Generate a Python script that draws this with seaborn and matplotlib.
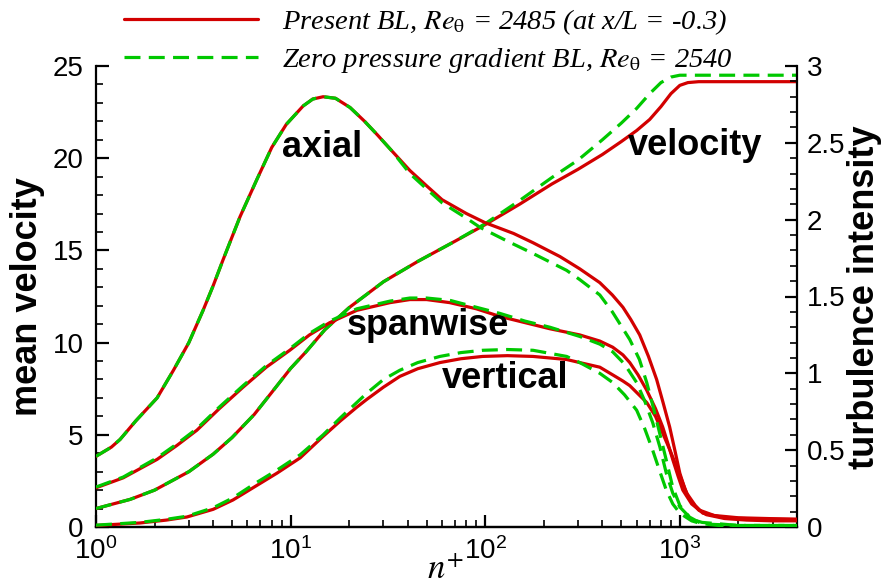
import matplotlib
matplotlib.use("Agg")
import matplotlib.pyplot as plt
from matplotlib.lines import Line2D
from matplotlib.ticker import MultipleLocator, LogLocator
import seaborn as sns

# ---- profile data (n+ = wall-normal distance in wall units) ----
RED = "#d20000"
GREEN = "#00c800"

# mean velocity U+
n_vel_present = [1, 1.5, 2, 3, 4, 5, 6.5, 8, 10, 12, 15, 20, 30, 45, 70, 100, 150, 220,
                 300, 400, 500, 600, 700, 800, 900, 1000, 1100, 1250, 2000, 4000]
u_present = [1.0, 1.5, 2.0, 3.0, 3.95, 4.85, 6.1, 7.3, 8.6, 9.5, 10.7, 11.9, 13.3, 14.4, 15.5,
             16.4, 17.5, 18.6, 19.4, 20.2, 20.9, 21.5, 22.1, 22.8, 23.5, 23.95, 24.1, 24.15,
             24.15, 24.15]
n_vel_zpg = [1, 1.5, 2, 3, 4, 5, 6.5, 8, 10, 12, 15, 20, 30, 45, 70, 100, 150, 220,
             300, 400, 500, 600, 700, 800, 900, 1000, 1250, 2000, 4000]
u_zpg = [1.0, 1.5, 2.0, 3.0, 3.95, 4.85, 6.1, 7.3, 8.6, 9.5, 10.7, 11.9, 13.3, 14.4, 15.5,
         16.45, 17.7, 18.95, 19.9, 21.0, 21.9, 22.7, 23.5, 24.1, 24.4, 24.5, 24.5, 24.5, 24.5]

# axial turbulence intensity
n_axial_present = [1, 1.2, 1.33, 1.6, 2.06, 2.5, 3.0, 3.55, 4.0, 4.5, 5.5, 6.7, 8.0, 9.5,
                   11.6, 13, 14.7, 17, 20.2, 24, 28, 33, 41, 50, 60, 80, 100, 140, 176,
                   242, 306, 388, 450, 510, 560, 622, 690, 760, 820, 887, 950, 1000, 1060,
                   1120, 1250, 1370, 1700, 2200, 3000, 4000]
axial_present = [0.46, 0.52, 0.57, 0.69, 0.84, 1.02, 1.2, 1.41, 1.57, 1.74, 2.02, 2.26,
                 2.47, 2.62, 2.74, 2.785, 2.80, 2.79, 2.73, 2.64, 2.55, 2.45, 2.32, 2.22,
                 2.13, 2.04, 1.98, 1.91, 1.85, 1.76, 1.68, 1.59, 1.51, 1.43, 1.35, 1.25,
                 1.11, 0.96, 0.81, 0.65, 0.48, 0.35, 0.25, 0.18, 0.11, 0.08, 0.055, 0.045,
                 0.04, 0.04]
n_axial_zpg = [1, 1.2, 1.33, 1.6, 2.06, 2.5, 3.0, 3.55, 4.0, 4.5, 5.5, 6.7, 8.0, 9.5,
               11.6, 13, 14.7, 17, 20.2, 24, 28, 33, 41, 50, 60, 80, 94, 130, 176, 262,
               306, 388, 450, 553, 620, 676, 730, 788, 850, 919, 1000, 1120, 1300, 1600,
               2000, 4000]
axial_zpg = [0.46, 0.52, 0.57, 0.69, 0.84, 1.02, 1.2, 1.41, 1.57, 1.74, 2.02, 2.26, 2.47,
             2.62, 2.74, 2.785, 2.80, 2.79, 2.73, 2.64, 2.55, 2.45, 2.30, 2.20, 2.11, 2.01,
             1.95, 1.86, 1.78, 1.67, 1.61, 1.51, 1.40, 1.22, 1.09, 0.94, 0.78, 0.61, 0.44,
             0.26, 0.14, 0.065, 0.02, 0.01, 0.005, 0.005]

# spanwise turbulence intensity
n_span_present = [1, 1.38, 2.06, 2.6, 3.3, 4.3, 5.7, 7.5, 9.9, 12.5, 15.9, 21.9, 32.4, 41,
                  50, 65.8, 90, 119, 160, 215, 306, 388, 452, 510, 553, 610, 676, 750,
                  817, 870, 919, 980, 1036, 1150, 1259, 1500, 2000, 4000]
span_present = [0.255, 0.32, 0.44, 0.53, 0.63, 0.77, 0.91, 1.04, 1.15, 1.25, 1.33, 1.41,
                1.46, 1.48, 1.48, 1.46, 1.42, 1.37, 1.33, 1.29, 1.25, 1.21, 1.17, 1.12,
                1.07, 0.99, 0.89, 0.77, 0.65, 0.54, 0.44, 0.33, 0.24, 0.15, 0.11, 0.075,
                0.06, 0.05]
n_span_zpg = [1, 1.38, 2.06, 2.6, 3.3, 4.3, 5.7, 7.5, 9.9, 12.5, 15.9, 21.9, 32.4, 41, 50,
              65.8, 90, 119, 160, 215, 306, 388, 452, 520, 600, 660, 725, 790, 852, 920,
              1000, 1150, 1300, 2000, 4000]
span_zpg = [0.26, 0.325, 0.45, 0.54, 0.64, 0.78, 0.92, 1.05, 1.16, 1.26, 1.34, 1.42, 1.47,
            1.49, 1.49, 1.475, 1.43, 1.39, 1.34, 1.30, 1.24, 1.19, 1.14, 1.06, 0.94, 0.82,
            0.68, 0.52, 0.35, 0.22, 0.13, 0.05, 0.03, 0.01, 0.01]

# vertical (wall-normal) turbulence intensity
n_vert_present = [1, 1.68, 2.3, 2.93, 4, 5.06, 6.5, 8.5, 11.2, 14.7, 18, 21.9, 24.6, 30,
                  36.4, 45, 58.5, 75, 97, 130, 176, 262, 306, 388, 452, 510, 553, 676, 750,
                  817, 890, 964, 1085, 1200, 1313, 1700, 2500, 4000]
vert_present = [0.01, 0.026, 0.045, 0.065, 0.115, 0.176, 0.26, 0.35, 0.45, 0.59, 0.69,
                0.78, 0.83, 0.91, 0.98, 1.03, 1.07, 1.095, 1.11, 1.115, 1.11, 1.09, 1.07,
                1.04, 0.99, 0.95, 0.92, 0.81, 0.72, 0.61, 0.50, 0.39, 0.22, 0.14, 0.09,
                0.06, 0.052, 0.05]
n_vert_zpg = [1, 1.68, 2.3, 2.93, 4, 5.06, 6.5, 8.5, 11.2, 14.7, 18, 24.6, 30, 36.4, 45,
              58.5, 75, 97, 130, 176, 262, 306, 388, 452, 520, 600, 660, 725, 790, 852,
              920, 1000, 1150, 1300, 2000, 4000]
vert_zpg = [0.012, 0.03, 0.05, 0.07, 0.125, 0.19, 0.28, 0.37, 0.47, 0.6, 0.71, 0.87, 0.96,
            1.02, 1.07, 1.11, 1.135, 1.15, 1.155, 1.15, 1.11, 1.07, 1.00, 0.94, 0.86, 0.76,
            0.64, 0.50, 0.36, 0.24, 0.15, 0.09, 0.04, 0.02, 0.01, 0.01]

legend_labels = [r"Present BL, $Re_{\mathrm{\theta}}$ = 2485 (at x/L = -0.3)",
                 r"Zero pressure gradient BL, $Re_{\mathrm{\theta}}$ = 2540"]
curve_names = ["axial", "velocity", "spanwise", "vertical"]

# ---- style ----
sns.set_theme(style="ticks")
plt.rcParams["font.family"] = ["Liberation Sans", "DejaVu Sans"]
plt.rcParams.update({
    "mathtext.fontset": "stix",
    "axes.linewidth": 1.6,
    "text.color": "black",
    "axes.labelcolor": "black",
    "axes.edgecolor": "black",
    "xtick.color": "black",
    "ytick.color": "black",
})

LW = 2.3
DASH = (0, (5, 2.6))

fig = plt.figure(figsize=(8.86, 5.84), dpi=100)
W, H = 886, 584
x0, x1, ytop, ybot = 96, 797, 66, 527
ax = fig.add_axes([x0 / W, 1 - ybot / H, (x1 - x0) / W, (ybot - ytop) / H])
ax2 = ax.twinx()

# mean velocity on the left axis
sns.lineplot(x=n_vel_present, y=u_present, ax=ax, color=RED, lw=LW,
             estimator=None, sort=False, zorder=3)
sns.lineplot(x=n_vel_zpg, y=u_zpg, ax=ax, color=GREEN, lw=LW, linestyle=DASH,
             estimator=None, sort=False, zorder=4)

# turbulence intensities on the right axis
for nn, vv in [(n_axial_present, axial_present), (n_span_present, span_present),
               (n_vert_present, vert_present)]:
    sns.lineplot(x=nn, y=vv, ax=ax2, color=RED, lw=LW, estimator=None, sort=False,
                 zorder=3)
for nn, vv in [(n_axial_zpg, axial_zpg), (n_span_zpg, span_zpg),
               (n_vert_zpg, vert_zpg)]:
    sns.lineplot(x=nn, y=vv, ax=ax2, color=GREEN, lw=LW, linestyle=DASH,
                 estimator=None, sort=False, zorder=4)

ax.set_xscale("log")
ax.set_xlim(1, 4000)
ax.set_ylim(0, 25)
ax2.set_ylim(0, 3)
ax.xaxis.set_major_locator(LogLocator(base=10, numticks=10))
ax.xaxis.set_minor_locator(LogLocator(base=10, subs=range(2, 10), numticks=50))
ax.yaxis.set_major_locator(MultipleLocator(5))
ax.yaxis.set_minor_locator(MultipleLocator(1))
ax2.yaxis.set_major_locator(MultipleLocator(0.5))
ax2.yaxis.set_minor_locator(MultipleLocator(0.1))
ax2.set_yticklabels([f"{v:g}" for v in ax2.get_yticks()])

for a in (ax, ax2):
    a.spines["top"].set_visible(False)
    a.set_xlabel("")
    a.set_ylabel("")
ax.spines["right"].set_visible(False)
ax2.spines["left"].set_visible(False)

ax.tick_params(axis="both", which="major", direction="in", length=9, width=1.6,
               labelsize=20)
ax.tick_params(axis="both", which="minor", direction="in", length=5, width=1.2)
ax.tick_params(axis="y", which="both", left=True, right=False, pad=9)
ax.tick_params(axis="x", which="both", top=False, pad=7)
ax2.tick_params(axis="y", which="major", direction="in", length=9, width=1.6,
                labelsize=20, pad=7)
ax2.tick_params(axis="y", which="minor", direction="in", length=5, width=1.2)

# curve annotations
bold = dict(fontsize=26, fontweight="bold", ha="center", va="baseline")
ax2.text(14.5, 2.41, curve_names[0], **bold)
ax2.text(1193, 2.42, curve_names[1], **bold)
ax2.text(50.7, 1.25, curve_names[2], **bold)
ax2.text(126, 0.905, curve_names[3], **bold)

# axis titles
fig.text(28 / W, 1 - 297 / H, "mean velocity", rotation=90, ha="center", va="center",
         fontsize=26, fontweight="bold")
fig.text(865 / W, 1 - 297 / H, "turbulence intensity", rotation=90, ha="center",
         va="center", fontsize=26, fontweight="bold")
fig.text(427 / W, 1 - 579 / H, r"$n^{+}$", ha="left", va="baseline", fontsize=25)

# legend
handles = [Line2D([], [], color=RED, lw=LW),
           Line2D([], [], color=GREEN, lw=LW, linestyle=DASH)]
fig.legend(handles, legend_labels, loc="upper left",
           bbox_to_anchor=(124 / W, 1 - 7 / H), frameon=False,
           prop=dict(family="Liberation Serif", style="italic", size=20.5),
           handlelength=4.7, handletextpad=0.85, labelspacing=0.32, borderpad=0.0,
           borderaxespad=0.0)

fig.savefig("out.png", dpi=100)
